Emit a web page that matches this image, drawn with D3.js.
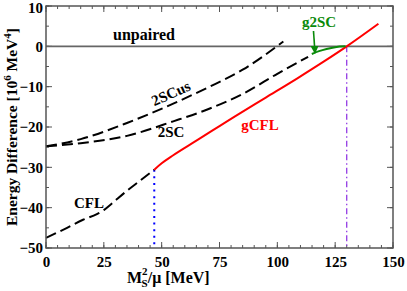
<!DOCTYPE html>
<html>
<head>
<meta charset="utf-8">
<script src="https://cdn.jsdelivr.net/npm/d3@7"></script>
<style>
  body { margin: 0; background: #fff; }
  svg { display: block; }
  text { font-family: "Liberation Serif", "Times New Roman", serif; font-weight: bold; }
</style>
</head>
<body>
<svg width="407" height="291"></svg>
<script>
// tick values
var xTicks = [0, 25, 50, 75, 100, 125, 150];
var yTicks = [-50, -40, -30, -20, -10, 0, 10];

// curves: [Ms^2/mu, energy]
var cfl = [[0, -47.5], [8, -45.3], [16, -43.0], [22, -41.6], [25, -40.6], [28, -39.2], [34.6, -36.0], [40, -33.6], [46.8, -30.6]];
var scus = [[0, -24.8], [15, -23.0], [35, -19.0], [55, -14.2], [70, -10.2], [85, -5.8], [102.6, 1.2]];
var sc = [[0, -24.8], [15, -24.0], [35, -22.2], [55, -18.6], [70, -15.6], [85, -11.8], [100, -6.8], [113.3, -2.6]];
var gcfl = [[46.8, -30.6], [50, -29.0], [55, -27.0], [65, -23.4], [82.4, -17.1], [95, -12.7], [109, -7.8], [120, -3.8], [130, 0], [143.7, 5.6]];
var g2sc = [[114.9, -1.9], [118, -1.2], [121.3, -0.65], [125, -0.2], [129.5, 0]];
var cflEnd = 46.8, gcflCross = 130;

var svg = d3.select("svg"),
    margin = {top: 6, right: 14, bottom: 43, left: 46},
    width = +svg.attr("width") - margin.left - margin.right,
    height = +svg.attr("height") - margin.top - margin.bottom,
    g = svg.append("g").attr("transform", "translate(" + margin.left + "," + margin.top + ")");

var x = d3.scaleLinear().domain([0, 150]).range([0, width]);
var y = d3.scaleLinear().domain([-50, 10]).range([height, 0]);

var line = d3.line()
    .curve(d3.curveMonotoneX)
    .x(function(d) { return x(d[0]); })
    .y(function(d) { return y(d[1]); });

var frameColor = "#555";

// minor + major ticks, inward on all four sides
var minorX = d3.range(0, 151, 5), minorY = d3.range(-50, 11, 5);
function ticks(sel, vals, scale, horiz, base, dir, len) {
  sel.selectAll(null).data(vals).enter().append("line")
    .attr("x1", function(d) { return horiz ? scale(d) : base; })
    .attr("x2", function(d) { return horiz ? scale(d) : base + dir * len; })
    .attr("y1", function(d) { return horiz ? base : scale(d); })
    .attr("y2", function(d) { return horiz ? base + dir * len : scale(d); })
    .attr("stroke", frameColor).attr("stroke-width", 1);
}
var tk = g.append("g");
ticks(tk, minorX, x, true, height, -1, 3);
ticks(tk, xTicks, x, true, height, -1, 6);
ticks(tk, minorX, x, true, 0, 1, 3);
ticks(tk, xTicks, x, true, 0, 1, 6);
ticks(tk, minorY, y, false, 0, 1, 3);
ticks(tk, yTicks, y, false, 0, 1, 6);
ticks(tk, minorY, y, false, width, -1, 3);
ticks(tk, yTicks, y, false, width, -1, 6);

// axis labels via d3 axes (tick lines hidden)
var xAxis = g.append("g")
    .attr("transform", "translate(0," + height + ")")
    .call(d3.axisBottom(x).tickValues(xTicks).tickSize(0).tickPadding(5));
var yAxis = g.append("g")
    .call(d3.axisLeft(y).tickValues(yTicks).tickSize(0).tickPadding(3));
[xAxis, yAxis].forEach(function(a) {
  a.select(".domain").remove();
  a.selectAll("text").attr("font-size", 15).attr("fill", "#000")
    .attr("font-family", "Liberation Serif").attr("font-weight", "bold");
});
xAxis.selectAll("text").attr("dy", "0.95em");
yAxis.selectAll("text").filter(function(d) { return d === 10; }).attr("dy", "0.42em");

// zero line
g.append("line")
  .attr("x1", 0).attr("x2", width).attr("y1", y(0)).attr("y2", y(0))
  .attr("stroke", "#666").attr("stroke-width", 1.6);

// vertical markers
g.append("line")
  .attr("x1", x(cflEnd)).attr("x2", x(cflEnd)).attr("y1", y(-30.6)).attr("y2", height)
  .attr("stroke", "#0000ff").attr("stroke-width", 2).attr("stroke-dasharray", "2,4.6");
g.append("line")
  .attr("x1", x(gcflCross)).attr("x2", x(gcflCross)).attr("y1", y(0)).attr("y2", height)
  .attr("stroke", "#8a2be2").attr("stroke-width", 1.2).attr("stroke-dasharray", "6,3,1.5,3");

// curves
function curve(data, color, dash) {
  g.append("path").datum(data)
    .attr("d", line).attr("fill", "none")
    .attr("stroke", color).attr("stroke-width", 2)
    .attr("stroke-dasharray", dash || null);
}
curve(cfl, "#000", "11,5");
curve(scus, "#000", "11,5");
curve(sc, "#000", "11,5");
curve(gcfl, "#ff0000");
curve(g2sc, "#0a8a0a");

// frame
g.append("rect").attr("width", width).attr("height", height)
  .attr("fill", "none").attr("stroke", frameColor).attr("stroke-width", 1.5);

// curve labels
function label(txt, px, py, color, size, rot) {
  var t = svg.append("text").attr("x", px).attr("y", py)
    .attr("text-anchor", "middle").attr("font-size", size || 15)
    .attr("fill", color || "#000").text(txt);
  if (rot) t.attr("transform", "rotate(" + rot + "," + px + "," + py + ")");
  return t;
}
label("unpaired", 144, 40, "#000", 16);
label("2SCus", 173, 98, "#000", 15, -24);
label("2SC", 171, 137, "#000", 15);
label("CFL", 89, 208, "#000", 15);
label("gCFL", 260, 130, "#ff0000", 15);
label("g2SC", 319, 27, "#0a8a0a", 15);

// g2SC arrow
svg.append("line").attr("x1", 313.5).attr("y1", 31).attr("x2", 314.6).attr("y2", 47)
  .attr("stroke", "#0a8a0a").attr("stroke-width", 1.6);
svg.append("path").attr("d", "M310.5,46 L318.5,46 L315,54 Z").attr("fill", "#0a8a0a");

// axis titles
var xt = svg.append("text").attr("x", 127).attr("y", 283).attr("font-size", 16);
xt.append("tspan").text("M");
xt.append("tspan").attr("font-size", 11).attr("dy", -8).text("2");
xt.append("tspan").attr("font-size", 11).attr("dx", -6).attr("dy", 12).text("S");
xt.append("tspan").attr("dy", -4).text("/\u03bc [MeV]");

var yt = svg.append("text").attr("transform", "translate(17,127) rotate(-90)")
  .attr("text-anchor", "middle").attr("font-size", 15.5);
yt.append("tspan").text("Energy Difference [10");
yt.append("tspan").attr("font-size", 11).attr("dy", -6).text("6");
yt.append("tspan").attr("dy", 6).text(" MeV");
yt.append("tspan").attr("font-size", 11).attr("dy", -6).text("4");
yt.append("tspan").attr("dy", 6).text("]");
</script>
</body>
</html>
